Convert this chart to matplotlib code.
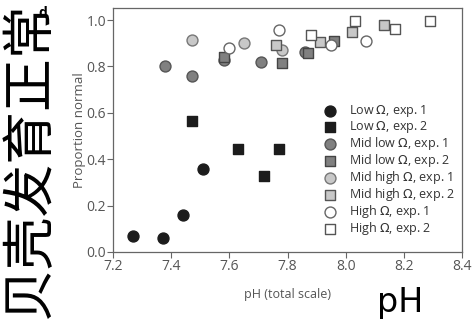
import matplotlib
matplotlib.use("Agg")
import matplotlib.pyplot as plt

plt.rcParams['font.family'] = ['Open Sans', 'DejaVu Sans']
plt.rcParams['mathtext.fontset'] = 'dejavusans'

# pH / proportion normal
low1_x = [7.27, 7.37, 7.44, 7.51]
low1_y = [0.07, 0.06, 0.16, 0.356]
low2_x = [7.47, 7.63, 7.72, 7.77]
low2_y = [0.566, 0.443, 0.328, 0.443]
midlow1_x = [7.38, 7.47, 7.58, 7.71, 7.86]
midlow1_y = [0.80, 0.76, 0.83, 0.82, 0.863]
midlow2_x = [7.58, 7.78, 7.87, 7.96]
midlow2_y = [0.842, 0.816, 0.856, 0.91]
midhigh1_x = [7.47, 7.65, 7.78]
midhigh1_y = [0.912, 0.90, 0.87]
midhigh2_x = [7.76, 7.91, 8.02, 8.13]
midhigh2_y = [0.892, 0.904, 0.947, 0.978]
high1_x = [7.60, 7.77, 7.95, 8.07]
high1_y = [0.88, 0.957, 0.892, 0.91]
high2_x = [7.88, 8.03, 8.17, 8.29]
high2_y = [0.935, 0.996, 0.96, 0.996]

series = [
    (low1_x, low1_y, 'o', '#1c1c1c', '#1c1c1c', r"Low $\mathit{\Omega}$, exp. 1"),
    (low2_x, low2_y, 's', '#1c1c1c', '#1c1c1c', r"Low $\mathit{\Omega}$, exp. 2"),
    (midlow1_x, midlow1_y, 'o', '#808080', '#555555', r"Mid low $\mathit{\Omega}$, exp. 1"),
    (midlow2_x, midlow2_y, 's', '#808080', '#444444', r"Mid low $\mathit{\Omega}$, exp. 2"),
    (midhigh1_x, midhigh1_y, 'o', '#c8c8c8', '#777777', r"Mid high $\mathit{\Omega}$, exp. 1"),
    (midhigh2_x, midhigh2_y, 's', '#c8c8c8', '#555555', r"Mid high $\mathit{\Omega}$, exp. 2"),
    (high1_x, high1_y, 'o', 'white', '#666666', r"High $\mathit{\Omega}$, exp. 1"),
    (high2_x, high2_y, 's', 'white', '#555555', r"High $\mathit{\Omega}$, exp. 2"),
]

fig = plt.figure(figsize=(4.75, 3.21), dpi=100)
ax = fig.add_axes([0.238, 0.215, 0.735, 0.76])

for x, y, m, fc, ec, lab in series:
    s = 62 if m == 'o' else 52
    ax.scatter(x, y, marker=m, s=s, facecolor=fc, edgecolor=ec, linewidth=1.0, label=lab, zorder=3)

ax.set_xlim(7.2, 8.4)
ax.set_ylim(0, 1.052)
ax.set_xticks([7.2, 7.4, 7.6, 7.8, 8.0, 8.2, 8.4])
ax.set_xticklabels(['7.2', '7.4', '7.6', '7.8', '8.0', '8.2', '8.4'])
ax.set_yticks([0, 0.2, 0.4, 0.6, 0.8, 1.0])
ax.set_yticklabels(['0.0', '0.2', '0.4', '0.6', '0.8', '1.0'])
for sp in ax.spines.values():
    sp.set_color('#666666')
    sp.set_linewidth(0.9)
ax.tick_params(direction='out', length=4, width=0.8, color='#666666',
               labelcolor='#555555', labelsize=10, pad=1)
ax.set_xlabel('pH (total scale)', fontsize=9, color='#555555', labelpad=10)
ax.set_ylabel('Proportion normal', fontsize=9.5, color='#555555', labelpad=0)

ax.legend(loc='lower right', bbox_to_anchor=(1.0, 0.03), frameon=False, fontsize=9,
          handletextpad=0.5, labelspacing=0.0, borderaxespad=0.2, labelcolor='#333333')

fig.text(0.09, 0.96, 'd', fontsize=10, fontweight='bold', color='black', ha='center', va='center')
fig.text(0.063, 0.5, '贝壳发育正常', rotation=90, fontsize=38, color='black', fontweight='light',
         family=['Noto Sans CJK SC', 'DejaVu Sans'], ha='center', va='center')
fig.text(0.842, 0.028, 'pH', fontsize=24, color='black', ha='center', va='baseline',
         family=['DejaVu Sans'])

fig.savefig('out.png', dpi=100)
